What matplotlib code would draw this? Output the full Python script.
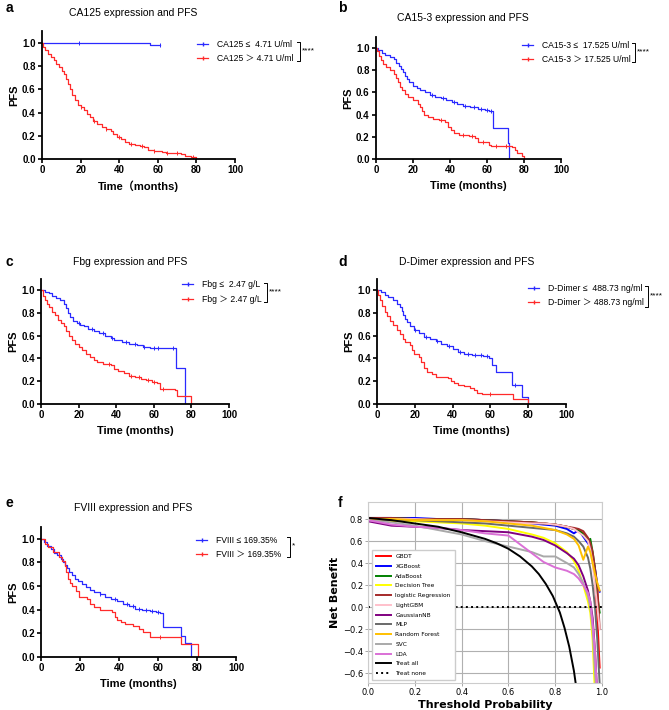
import numpy as np
import matplotlib
matplotlib.use("Agg")
import matplotlib.pyplot as plt
from matplotlib.lines import Line2D

plt.rcParams['font.family'] = ['Liberation Sans', 'Noto Sans CJK SC', 'DejaVu Sans']
plt.rcParams['axes.unicode_minus'] = True

# ---------------- KM data (time in months, PFS) ----------------
# a: CA125
a_low_t = [0, 56, 61]
a_low_s = [1.0, 0.98, 0.98]
a_low_c = [19, 61]
a_high_t = [0, 0.5, 1.5, 3, 4.5, 6, 7.5, 9, 10.5, 11.5, 12.5, 13.5, 14.5, 15.5, 17, 18.5,
            20, 22, 23.5, 25, 26.5, 28.5, 31, 33, 35.5, 37, 39, 41, 43, 45, 48, 51, 53,
            55, 58, 62, 64, 72, 74, 77, 80]
a_high_s = [1.0, 0.97, 0.94, 0.91, 0.88, 0.85, 0.82, 0.79, 0.76, 0.73, 0.69, 0.65, 0.60,
            0.55, 0.51, 0.47, 0.45, 0.42, 0.39, 0.36, 0.33, 0.30, 0.28, 0.26, 0.24, 0.22,
            0.19, 0.17, 0.15, 0.13, 0.12, 0.11, 0.10, 0.08, 0.07, 0.06, 0.05, 0.04, 0.03,
            0.02, 0.0]
a_high_c = [20, 27, 33, 40, 46, 52, 58, 65, 70, 78]

# b: CA15-3
b_low_t = [0, 1, 3, 5, 7.5, 9.5, 11, 12.5, 13.5, 14.5, 15.5, 16.5, 18, 20, 22, 24, 26.5,
           29, 32, 35, 38, 41, 44, 47, 51, 55, 59, 61, 63.5, 71.3, 72]
b_low_s = [1.0, 0.98, 0.96, 0.94, 0.92, 0.90, 0.87, 0.84, 0.81, 0.78, 0.75, 0.72, 0.69,
           0.66, 0.64, 0.62, 0.60, 0.58, 0.56, 0.55, 0.53, 0.51, 0.50, 0.48, 0.47, 0.45,
           0.44, 0.43, 0.28, 0.14, 0.0]
b_low_c = [30, 36, 42, 48, 53, 57, 60, 62]
b_high_t = [0, 0.5, 1.5, 2.5, 4, 5.5, 7.5, 9.5, 11, 12, 13, 14, 15.5, 17.5, 20, 22.5, 24,
            25, 26, 28, 31, 34, 37.5, 39, 40.5, 42, 45, 50, 53.5, 55, 61, 62, 73.5, 75,
            76, 79, 80]
b_high_s = [1.0, 0.97, 0.93, 0.89, 0.86, 0.83, 0.80, 0.77, 0.73, 0.69, 0.65, 0.62, 0.59,
            0.56, 0.53, 0.50, 0.47, 0.43, 0.40, 0.38, 0.36, 0.35, 0.33, 0.29, 0.26, 0.23,
            0.22, 0.21, 0.19, 0.15, 0.13, 0.12, 0.11, 0.08, 0.05, 0.025, 0.0]
b_high_c = [35, 47, 52, 58, 65, 70]

# c: Fbg
c_low_t = [0, 2, 4, 6, 8, 10, 12, 13.5, 14.5, 15.5, 17, 19, 21, 23, 25, 28, 31, 34, 37,
           39, 43, 47, 51, 54, 58, 72, 76.5]
c_low_s = [1.0, 0.98, 0.97, 0.95, 0.93, 0.91, 0.88, 0.84, 0.80, 0.76, 0.73, 0.71, 0.69,
           0.68, 0.66, 0.64, 0.62, 0.60, 0.58, 0.56, 0.54, 0.53, 0.52, 0.50, 0.49, 0.32,
           0.0]
c_low_c = [20, 27, 33, 38, 45, 50, 55, 60, 62, 70]
c_high_t = [0, 1, 2, 3, 4.5, 6, 7.5, 9, 10.5, 12, 13.5, 15, 16.5, 18, 20, 22, 24, 26, 28,
            30, 33, 37, 39, 41, 44, 47, 50, 53, 56, 59, 61.5, 63.5, 71.5, 72.5, 80]
c_high_s = [1.0, 0.95, 0.91, 0.88, 0.85, 0.81, 0.78, 0.74, 0.71, 0.68, 0.64, 0.60, 0.56,
            0.53, 0.50, 0.47, 0.44, 0.41, 0.39, 0.37, 0.35, 0.34, 0.31, 0.29, 0.27, 0.25,
            0.24, 0.22, 0.21, 0.19, 0.18, 0.13, 0.12, 0.07, 0.0]
c_high_c = [36, 48, 52, 57, 60, 65]

# d: D-Dimer
d_low_t = [0, 2, 4, 6, 8.5, 10.5, 12, 13, 14, 15, 16, 17.5, 19.5, 22, 25, 28, 31, 34, 37,
           40, 43, 46, 50, 56, 59, 61, 63, 71.5, 76.6, 80]
d_low_s = [1.0, 0.98, 0.96, 0.94, 0.91, 0.88, 0.85, 0.82, 0.78, 0.75, 0.72, 0.68, 0.65,
           0.62, 0.59, 0.57, 0.55, 0.53, 0.51, 0.48, 0.46, 0.44, 0.43, 0.42, 0.40, 0.34,
           0.28, 0.17, 0.06, 0.0]
d_low_c = [20, 26, 32, 38, 44, 48, 52, 55, 58, 73]
d_high_t = [0, 0.5, 1.5, 2.5, 4, 5.5, 7, 8.5, 10.5, 12, 13.5, 15, 17.5, 18.5, 19.5, 22,
            23.5, 25, 26.5, 29, 31, 37.5, 39, 40.5, 43, 46, 49, 51.5, 53, 55.5, 72.2, 80]
d_high_s = [1.0, 0.96, 0.91, 0.86, 0.81, 0.77, 0.73, 0.69, 0.65, 0.61, 0.57, 0.54, 0.52,
            0.47, 0.44, 0.41, 0.37, 0.32, 0.28, 0.26, 0.24, 0.23, 0.20, 0.18, 0.17, 0.16,
            0.14, 0.12, 0.10, 0.09, 0.04, 0.0]
d_high_c = [60]

# e: FVIII
e_low_t = [0, 1.5, 3, 5, 6.5, 8, 10, 11.5, 12.5, 13.5, 14.5, 16, 17.5, 19, 21, 23, 25, 27,
           30, 33, 36, 39, 42, 45, 48, 52, 56, 59, 61, 62.7, 72, 74, 76.7]
e_low_s = [1.0, 0.97, 0.94, 0.91, 0.88, 0.86, 0.83, 0.80, 0.78, 0.75, 0.72, 0.69, 0.66,
           0.64, 0.62, 0.59, 0.57, 0.55, 0.53, 0.51, 0.49, 0.47, 0.45, 0.43, 0.41, 0.40,
           0.39, 0.38, 0.37, 0.25, 0.18, 0.12, 0.0]
e_low_c = [30, 38, 44, 47, 50, 54, 57, 60]
e_high_t = [0, 2, 3.5, 6, 9, 11, 12.4, 13, 14, 15, 16, 18, 19.5, 23.5, 25, 27, 30, 36.5,
            38, 39, 41, 43, 47, 50, 52.5, 56, 72, 80.5]
e_high_s = [1.0, 0.96, 0.93, 0.89, 0.85, 0.81, 0.77, 0.72, 0.66, 0.63, 0.60, 0.56, 0.51,
            0.49, 0.45, 0.42, 0.40, 0.38, 0.34, 0.31, 0.30, 0.28, 0.26, 0.24, 0.21, 0.17,
            0.11, 0.0]
e_high_c = [61]

# ---------------- DCA data ----------------
thresholds = [0.0, 0.1, 0.2, 0.3, 0.4, 0.5, 0.6, 0.7, 0.75, 0.8, 0.85, 0.88, 0.9, 0.92,
              0.94, 0.95, 0.96, 0.97, 0.98, 0.99]
nb_gbdt = [0.81, 0.81, 0.80, 0.80, 0.80, 0.79, 0.78, 0.77, 0.76, 0.75, 0.73, 0.71, 0.70,
           0.67, 0.62, 0.57, 0.45, 0.25, -0.10, -0.55]
nb_xgb = [0.81, 0.81, 0.81, 0.80, 0.80, 0.79, 0.78, 0.76, 0.75, 0.74, 0.71, 0.67, 0.70,
          0.64, 0.58, 0.55, 0.45, 0.35, 0.20, 0.14]
nb_ada = [0.81, 0.81, 0.80, 0.80, 0.80, 0.79, 0.78, 0.77, 0.76, 0.75, 0.73, 0.71, 0.70,
          0.66, 0.60, 0.62, 0.50, 0.35, 0.10, -0.05]
nb_dt = [0.79, 0.78, 0.78, 0.77, 0.76, 0.74, 0.71, 0.66, 0.63, 0.58, 0.50, 0.42, 0.33,
         0.20, 0.05, -0.05, -0.30, -0.80, -0.90, -0.90]
nb_lr = [0.81, 0.81, 0.80, 0.80, 0.80, 0.79, 0.78, 0.77, 0.76, 0.75, 0.73, 0.72, 0.71,
         0.69, 0.63, 0.58, 0.50, 0.35, 0.20, -0.20]
nb_lgbm = [0.80, 0.80, 0.80, 0.79, 0.79, 0.78, 0.77, 0.76, 0.76, 0.75, 0.73, 0.71, 0.68,
           0.65, 0.60, 0.52, 0.40, 0.20, 0.00, -0.20]
nb_gnb = [0.78, 0.74, 0.73, 0.72, 0.70, 0.69, 0.68, 0.64, 0.61, 0.56, 0.49, 0.44, 0.38,
          0.28, 0.15, 0.05, -0.10, -0.40, -0.80, -0.90]
nb_mlp = [0.80, 0.79, 0.79, 0.78, 0.77, 0.76, 0.74, 0.72, 0.71, 0.70, 0.67, 0.64, 0.60,
          0.55, 0.45, 0.35, 0.20, 0.00, -0.30, -0.70]
nb_rf = [0.80, 0.80, 0.79, 0.79, 0.79, 0.78, 0.76, 0.74, 0.72, 0.70, 0.66, 0.62, 0.56,
         0.43, 0.55, 0.50, 0.40, 0.30, 0.22, 0.15]
nb_svc = [0.79, 0.77, 0.74, 0.70, 0.66, 0.60, 0.55, 0.50, 0.46, 0.46, 0.40, 0.36, 0.30,
          0.22, 0.10, 0.00, -0.20, -0.60, -0.90, -0.90]
nb_lda = [0.79, 0.75, 0.73, 0.72, 0.70, 0.67, 0.65, 0.49, 0.41, 0.36, 0.33, 0.30, 0.26,
          0.20, 0.13, 0.05, -0.15, -0.40, -0.80, -0.90]
all_t = [0.0, 0.1, 0.2, 0.3, 0.4, 0.5, 0.55, 0.6, 0.65, 0.7, 0.73, 0.76, 0.79, 0.82, 0.84,
         0.86, 0.88, 0.89]
nb_all = [0.81, 0.79, 0.76, 0.73, 0.68, 0.62, 0.58, 0.53, 0.46, 0.37, 0.30, 0.21, 0.10,
          -0.05, -0.19, -0.36, -0.58, -0.73]
none_t = [0.0, 1.0]
nb_none = [0.0, 0.0]

W, H = 669, 710


def rect(left, right, top, bottom):
    # pixel box -> figure fractions
    return [left / W, 1 - bottom / H, (right - left) / W, (bottom - top) / H]


def step_at(t, s, c):
    idx = np.searchsorted(np.array(t), np.array(c), side='right') - 1
    return np.array(s)[idx]


def km_panel(ax, low, high, labels, title_xy, title, leg_xy, br_x, br_y, stars, xlab):
    for (t, s, c), col in zip([low, high], ['#2a2aff', '#ff2a2a']):
        ax.step(t, s, where='post', color=col, lw=0.9)
        ax.plot(c, step_at(t, s, c), ls='none', marker='|', ms=3.5, mew=0.7, color=col)
    ax.set_xlim(0, 100)
    ax.set_ylim(0, 1.1)
    ax.set_xticks(np.arange(0, 101, 20))
    ax.set_yticks(np.arange(0, 1.01, 0.2))
    ax.set_yticklabels([f"{v:.1f}" for v in np.arange(0, 1.01, 0.2)])
    for sp in ['top', 'right']:
        ax.spines[sp].set_visible(False)
    for sp in ['left', 'bottom']:
        ax.spines[sp].set_linewidth(1.3)
    ax.tick_params(direction='out', length=3, width=1.2, labelsize=7, pad=1.5)
    for lab in ax.get_xticklabels() + ax.get_yticklabels():
        lab.set_fontweight('bold')
    ax.set_ylabel('PFS', fontsize=8, fontweight='bold', labelpad=2)
    ax.set_xlabel(xlab, fontsize=8, fontweight='bold', labelpad=4)
    handles = [Line2D([], [], color='#2a2aff', lw=0.9, marker='|', ms=3.5),
               Line2D([], [], color='#ff2a2a', lw=0.9, marker='|', ms=3.5)]
    ax.legend(handles, labels, loc='center left', bbox_to_anchor=leg_xy, frameon=False,
              fontsize=6.2, handlelength=1.3, handletextpad=1.0, labelspacing=0.6,
              borderpad=0, borderaxespad=0)
    x0, y0, y1 = br_x, br_y[1], br_y[0]
    ax.plot([x0 - 0.015, x0, x0, x0 - 0.015], [y1, y1, y0, y0], color='black', lw=0.7,
            transform=ax.transAxes, clip_on=False)
    ax.text(x0 + 0.01, (y0 + y1) / 2 + 0.005, stars, transform=ax.transAxes, fontsize=6,
            va='center', ha='left')
    fig.text(title_xy[0] / W, 1 - title_xy[1] / H, title, fontsize=7.5, ha='center',
             va='center')


fig = plt.figure(figsize=(6.69, 7.10), dpi=100)

ax_a = fig.add_axes(rect(42, 235, 31.5, 159))
km_panel(ax_a, (a_low_t, a_low_s, a_low_c), (a_high_t, a_high_s, a_high_c),
         ['CA125 ≤  4.71 U/ml', 'CA125 ＞ 4.71 U/ml'], (133, 13), 'CA125 expression and PFS',
         (0.803, 0.843), 1.337, (0.918, 0.769), '****', 'Time（months)')

ax_b = fig.add_axes(rect(376, 561, 37, 159))
km_panel(ax_b, (b_low_t, b_low_s, b_low_c), (b_high_t, b_high_s, b_high_c),
         ['CA15-3 ≤  17.525 U/ml', 'CA15-3 ＞ 17.525 U/ml'], (463, 18),
         'CA15-3 expression and PFS', (0.789, 0.873), 1.40, (0.951, 0.795), '****',
         'Time (months)')

ax_c = fig.add_axes(rect(41, 229, 278.6, 404))
km_panel(ax_c, (c_low_t, c_low_s, c_low_c), (c_high_t, c_high_s, c_high_c),
         ['Fbg ≤  2.47 g/L', 'Fbg ＞ 2.47 g/L'], (130, 262), 'Fbg expression and PFS',
         (0.75, 0.893), 1.202, (0.965, 0.813), '****', 'Time (months)')

ax_d = fig.add_axes(rect(377, 566, 278.6, 404))
km_panel(ax_d, (d_low_t, d_low_s, d_low_c), (d_high_t, d_high_s, d_high_c),
         ['D-Dimer ≤  488.73 ng/ml', 'D-Dimer ＞ 488.73 ng/ml'], (467, 262),
         'D-Dimer expression and PFS', (0.799, 0.865), 1.434, (0.941, 0.774), '****',
         'Time (months)')

ax_e = fig.add_axes(rect(41, 236, 527, 657))
km_panel(ax_e, (e_low_t, e_low_s, e_low_c), (e_high_t, e_high_s, e_high_c),
         ['FVIII ≤ 169.35%', 'FVIII ＞ 169.35%'], (133, 508), 'FVIII expression and PFS',
         (0.795, 0.844), 1.277, (0.924, 0.770), '*', 'Time (months)')

# ---------------- panel f: decision curves ----------------
ax_f = fig.add_axes(rect(368, 602, 502, 683))
models = [('GBDT', nb_gbdt, 'red'), ('XGBoost', nb_xgb, 'blue'),
          ('AdaBoost', nb_ada, 'green'), ('Decision Tree', nb_dt, 'yellow'),
          ('logistic Regression', nb_lr, 'brown'), ('LightGBM', nb_lgbm, 'pink'),
          ('GaussianNB', nb_gnb, 'purple'), ('MLP', nb_mlp, 'dimgray'),
          ('Random Forest', nb_rf, '#ffc000'), ('SVC', nb_svc, 'darkgray'),
          ('LDA', nb_lda, 'orchid')]
for name, vals, col in models:
    ax_f.plot(thresholds, vals, color=col, lw=1.4, label=name)
ax_f.plot(all_t, nb_all, color='black', lw=1.4, label='Treat all')
ax_f.plot(none_t, nb_none, color='black', lw=1.4, ls=':', label='Treat none')
ax_f.set_xlim(0, 1)
ax_f.set_ylim(-0.69, 0.955)
ax_f.set_xticks(np.arange(0, 1.01, 0.2))
ax_f.set_yticks(np.arange(-0.6, 0.81, 0.2))
ax_f.grid(True, color='#b0b0b0', lw=0.8)
ax_f.set_axisbelow(True)
for sp in ax_f.spines.values():
    sp.set_color('#cccccc')
ax_f.tick_params(length=2, width=0.6, color='#999999', labelsize=6, pad=1.5)
for lab in ax_f.get_xticklabels() + ax_f.get_yticklabels():
    lab.set_fontfamily('DejaVu Sans')
ax_f.set_xlabel('Threshold Probability', fontsize=8, fontweight='bold', labelpad=2,
                fontfamily='DejaVu Sans')
ax_f.set_ylabel('Net Benefit', fontsize=8, fontweight='bold', labelpad=2,
                fontfamily='DejaVu Sans')
ax_f.legend(loc='lower left', bbox_to_anchor=(0.015, 0.015), borderaxespad=0,
            prop={'family': 'DejaVu Sans', 'size': 4.2}, labelspacing=0.8,
            handlelength=2.6, handletextpad=0.8, borderpad=0.7, framealpha=1,
            edgecolor='#cccccc', fancybox=False)

# panel letters
for letter, (x, y) in zip('abcdef', [(6, 8), (338, 8), (6, 262), (338, 262), (6, 503),
                                    (338, 503)]):
    fig.text(x / W, 1 - y / H, letter, fontsize=10, fontweight='bold', ha='left',
             va='center')

fig.savefig('out.png', dpi=100)
